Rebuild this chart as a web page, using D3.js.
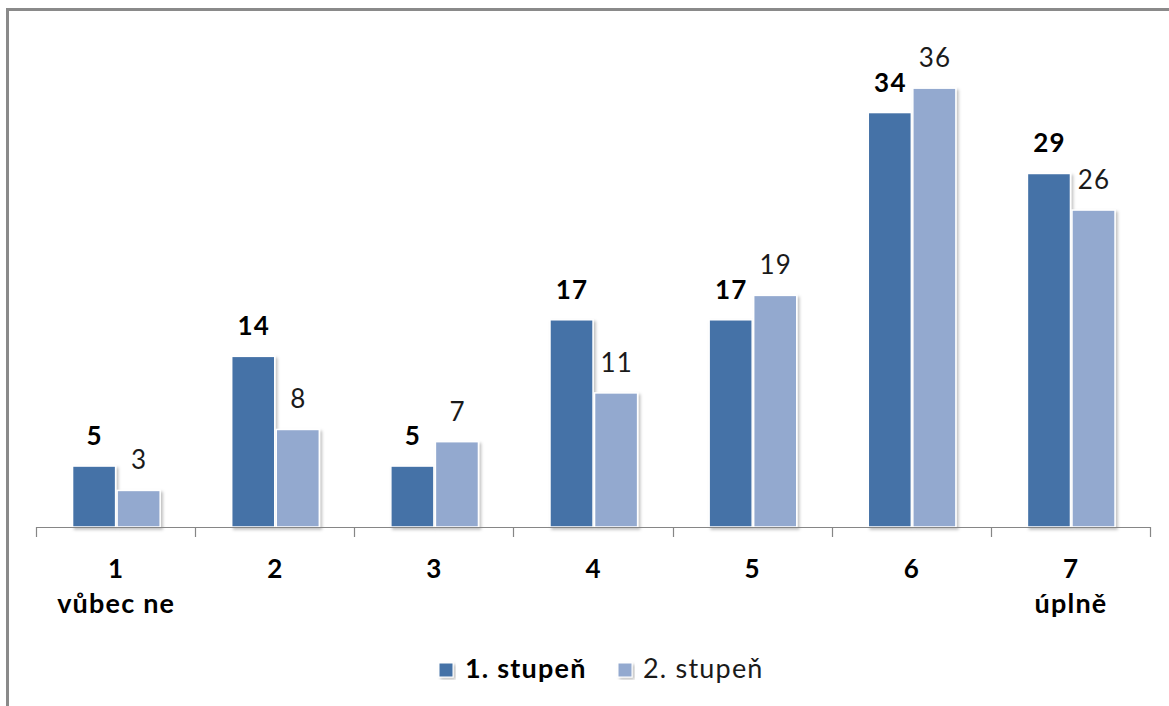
<!DOCTYPE html>
<html>
<head>
<meta charset="utf-8">
<script src="https://cdn.jsdelivr.net/npm/d3@7"></script>
<style>
  html, body { margin: 0; padding: 0; background: #fff; }
  svg { display: block; font-family: Lato, "Open Sans", sans-serif; }
</style>
</head>
<body>
<svg id="chart" width="1169" height="706"></svg>
<script>
const categories = ["1", "2", "3", "4", "5", "6", "7"];
const subLabels = ["vůbec ne", "", "", "", "", "", "úplně"];
const seriesNames = ["1. stupeň", "2. stupeň"];
const stupen1 = [5, 14, 5, 17, 17, 34, 29];
const stupen2 = [3, 8, 7, 11, 19, 36, 26];
const yMax = 40;

const colors = ["#4572a7", "#93a9cf"];
const seriesValues = [stupen1, stupen2];

const svg = d3.select("#chart");

const defs = svg.append("defs");
const f = defs.append("filter").attr("id", "shadow").attr("x", "-20%").attr("y", "-20%").attr("width", "140%").attr("height", "140%");
f.append("feDropShadow").attr("dx", 2).attr("dy", 2).attr("stdDeviation", 1.5).attr("flood-color", "#000").attr("flood-opacity", 0.25);

// outer frame (extends past right and bottom edges)
svg.append("rect")
  .attr("x", 7.5).attr("y", 9.5).attr("width", 1200).attr("height", 760)
  .attr("fill", "none").attr("stroke", "#8a8a8a").attr("stroke-width", 3);

const x0 = d3.scaleBand().domain(categories).range([36, 1150]).padding(0);
const bw = x0.bandwidth();
const x1 = d3.scaleBand().domain(seriesNames).range([bw * 0.225, bw * 0.785]).padding(0);
const y = d3.scaleLinear().domain([0, yMax]).range([527, 527 - 12.19 * yMax]);

const groups = svg.append("g").selectAll("g")
  .data(categories)
  .join("g")
  .attr("transform", d => `translate(${x0(d)},0)`);

seriesNames.forEach((s, si) => {
  groups.append("rect")
    .attr("x", x1(s) + 0.75)
    .attr("width", x1.bandwidth() - 1.5)
    .attr("y", (d, i) => y(seriesValues[si][i]))
    .attr("height", (d, i) => y(0) - y(seriesValues[si][i]))
    .attr("fill", colors[si])
    .attr("stroke", "#ffffff")
    .attr("stroke-width", 1.5)
    .attr("filter", "url(#shadow)");
});

seriesNames.forEach((s, si) => {
  groups.append("text")
    .attr("x", x1(s) + x1.bandwidth() / 2 + 0.6)
    .attr("y", (d, i) => y(seriesValues[si][i]) - 21)
    .attr("text-anchor", "middle")
    .attr("font-size", 26)
    .attr("letter-spacing", 1.2)
    .attr("font-weight", si === 0 ? 700 : 400)
    .attr("fill", si === 0 ? "#000" : "#1a1a1a")
    .text((d, i) => seriesValues[si][i]);
});

const axis = svg.append("g");
axis.append("line")
  .attr("x1", x0.range()[0]).attr("x2", x0.range()[1])
  .attr("y1", y(0) + 0.5).attr("y2", y(0) + 0.5)
  .attr("stroke", "#868686").attr("stroke-width", 1.2);
const bounds = categories.map(c => x0(c)).concat([x0(categories[categories.length - 1]) + bw]);
axis.selectAll("line.tick").data(bounds).join("line")
  .attr("class", "tick")
  .attr("x1", d => Math.round(d) + 0.5).attr("x2", d => Math.round(d) + 0.5)
  .attr("y1", y(0)).attr("y2", y(0) + 10)
  .attr("stroke", "#868686").attr("stroke-width", 1.2);

const catLab = svg.append("g");
catLab.selectAll("text.cat").data(categories).join("text")
  .attr("class", "cat")
  .attr("x", d => x0(d) + bw / 2 + 0.6)
  .attr("y", 578)
  .attr("text-anchor", "middle")
  .attr("font-size", 26).attr("font-weight", 700).attr("fill", "#000")
  .attr("letter-spacing", 1.2)
  .text(d => d);
catLab.selectAll("text.sub").data(subLabels).join("text")
  .attr("class", "sub")
  .attr("x", (d, i) => x0(categories[i]) + bw / 2 + 0.6)
  .attr("y", 613)
  .attr("text-anchor", "middle")
  .attr("font-size", 27).attr("font-weight", 700).attr("fill", "#000")
  .attr("letter-spacing", 1.2)
  .text(d => d);

const legendX = [439, 618];
const legend = svg.append("g");
seriesNames.forEach((s, si) => {
  legend.append("rect")
    .attr("x", legendX[si]).attr("y", 663)
    .attr("width", 14).attr("height", 14)
    .attr("fill", colors[si])
    .attr("stroke", "#fff").attr("stroke-width", 1)
    .attr("filter", "url(#shadow)");
  legend.append("text")
    .attr("x", legendX[si] + (si === 0 ? 26 : 25))
    .attr("y", 678)
    .attr("font-size", 27)
    .attr("letter-spacing", 1.2)
    .attr("font-weight", si === 0 ? 700 : 400)
    .attr("fill", si === 0 ? "#000" : "#1a1a1a")
    .text(s);
});
</script>
</body>
</html>
